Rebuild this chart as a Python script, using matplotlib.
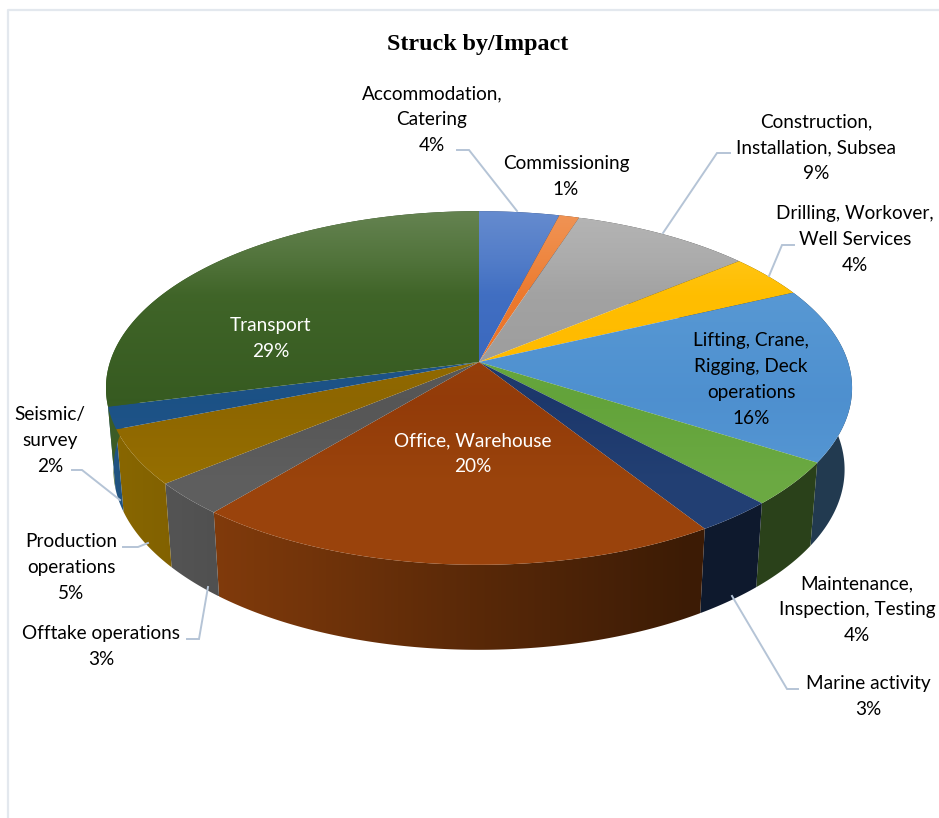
import numpy as np
import matplotlib
matplotlib.use('Agg')
from matplotlib import pyplot as plt
from matplotlib.colors import to_rgb
from matplotlib.patches import PathPatch
from matplotlib.path import Path

categories = ['Accommodation,\nCatering', 'Commissioning',
              'Construction,\nInstallation, Subsea',
              'Drilling, Workover,\nWell Services',
              'Lifting, Crane,\nRigging, Deck\noperations',
              'Maintenance,\nInspection, Testing', 'Marine activity',
              'Office, Warehouse', 'Offtake operations',
              'Production\noperations', 'Seismic/\nsurvey', 'Transport']
shares = [4, 1, 9, 4, 16, 4, 3, 20, 3, 5, 2, 29]
slice_colors = ['#4472C4', '#ED7D31', '#A5A5A5', '#FFC000', '#5B9BD5', '#70AD47',
                '#264478', '#9E480E', '#636363', '#997300', '#255E91', '#43682B']

# centre of each label block, and its text colour
label_pos = [(432, 119.5), (566, 176.5), (816, 147.5), (855, 239.5), (751, 379.5),
             (857, 609.5), (868, 696.5), (473, 454), (101, 646.5), (71, 567.5),
             (50, 440.5), (271, 338.5)]
label_colors = ['black'] * 7 + ['white'] + ['black'] * 3 + ['white']

leaders = [[(457, 150), (469, 150), (517, 211)],
           [(730, 153), (717, 153), (663, 233)],
           [(794, 245), (782, 245), (769, 276)],
           [(72, 470), (82, 470), (120, 500)],
           [(123, 547), (138, 547), (148, 543)],
           [(187, 639), (199, 639), (208, 587)],
           [(798, 689), (787, 689), (732, 596)]]

# perspective of the pie, in pixels
CX, CY = 479, 362
RX, RY = 369, 173
TILT = 0.147
TAPER = 0.98


def top_point(theta):
    u, v = np.sin(theta), np.cos(theta)
    w = 1 + TILT * v
    return CX + RX * u / w, CY - RY * v / w


def bottom_point(theta):
    x, y = top_point(theta)
    return CX + (x - CX) * TAPER, y + 81 - 4 * np.cos(theta)


def fill_gradient(ax, xs, ys, image, zorder):
    verts = np.column_stack([xs, ys])
    clip = PathPatch(Path(np.vstack([verts, verts[0]]), closed=True),
                     transform=ax.transData, fc='none', ec='none')
    ax.add_patch(clip)
    im = ax.imshow(image, extent=(xs.min(), xs.max(), ys.max(), ys.min()),
                   aspect='auto', interpolation='bilinear', zorder=zorder)
    im.set_clip_path(clip)


def top_shade(y):
    # deeper colour around the centre, white sheen along the back rim
    gamma = np.interp(y, [260, 400, 480], [1.0, 1.15, 1.05])
    sheen = np.interp(y, [211, 295], [0.18, 0.0])
    return gamma, sheen


def wall_shade(x):
    return np.interp(x, [105, 230, 480, 690, 850], [0.9, 0.8, 0.56, 0.38, 0.38])


def main():
    fig = plt.figure(figsize=(9.39, 8.18), dpi=100)
    ax = fig.add_axes([0, 0, 1, 1])
    fractions = np.cumsum([0] + shares) / sum(shares)
    angles = 2 * np.pi * fractions

    for a0, a1, color in zip(angles[:-1], angles[1:], slice_colors):
        rgb = np.array(to_rgb(color))
        theta = np.linspace(a0, a1, 200)

        # outer wall
        tx, ty = top_point(theta)
        bx, by = bottom_point(theta)
        xs = np.concatenate([tx, bx[::-1]])
        ys = np.concatenate([ty, by[::-1]])
        grid = np.linspace(xs.min(), xs.max(), 200)
        image = (wall_shade(grid)[:, None] * rgb)[None, :, :]
        fill_gradient(ax, xs, ys, np.clip(image, 0, 1), 2)

    for a0, a1, color in zip(angles[:-1], angles[1:], slice_colors):
        rgb = np.array(to_rgb(color))
        theta = np.linspace(a0, a1, 200)

        # top face
        tx, ty = top_point(theta)
        xs = np.concatenate([[CX], tx])
        ys = np.concatenate([[CY], ty])
        grid = np.linspace(ys.min(), ys.max(), 200)
        gamma, sheen = top_shade(grid)
        image = rgb[None, :] ** gamma[:, None]
        image = (image * (1 - sheen[:, None]) + sheen[:, None])[:, None, :]
        fill_gradient(ax, xs, ys, np.clip(image, 0, 1), 3)

    for pts in leaders:
        px, py = zip(*pts)
        ax.plot(px, py, color='#b5c4d6', lw=1.4, zorder=4, solid_joinstyle='miter')

    for name, share, (x, y), c in zip(categories, shares, label_pos, label_colors):
        ax.text(x, y, f'{name}\n{share}%', color=c, ha='center', va='center',
                family='Lato', fontsize=13.7, linespacing=1.62, zorder=5)

    ax.text(478, 44.5, 'Struck by/Impact', ha='center', va='center',
            family='Liberation Serif', weight='bold', fontsize=17.3, zorder=5)

    # chart frame
    ax.plot([7.5, 7.5, 939], [818, 9.5, 9.5], color='#e3e8ee', lw=1.6, zorder=1)

    ax.set_xlim(0, 939)
    ax.set_ylim(818, 0)
    ax.axis('off')
    fig.savefig('out.png', dpi=100, facecolor='white')


if __name__ == '__main__':
    main()
